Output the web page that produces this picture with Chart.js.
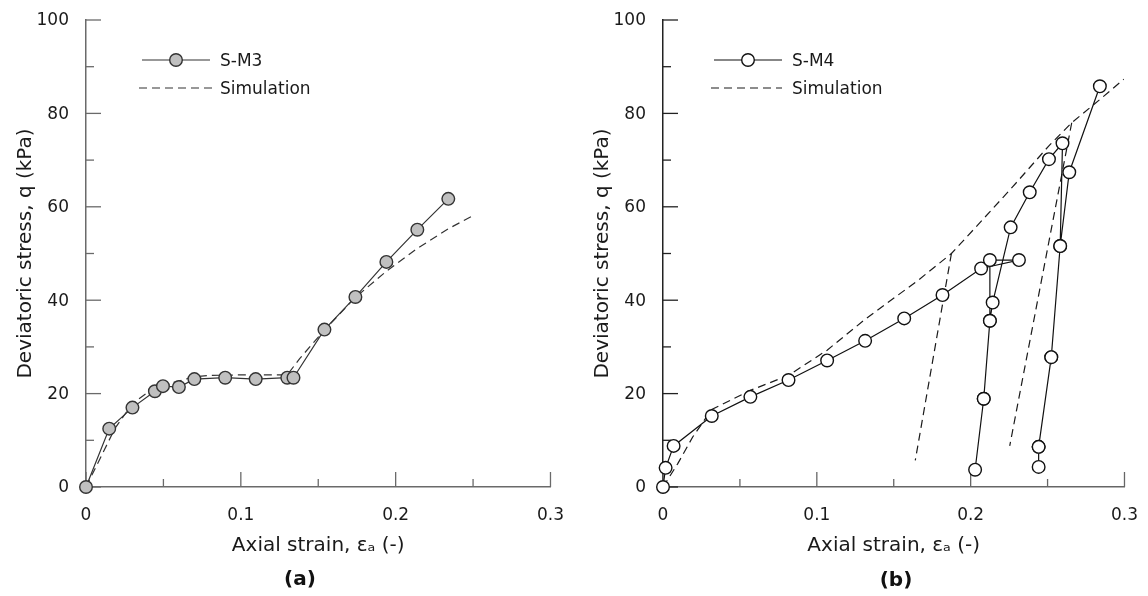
<!DOCTYPE html>
<html>
<head>
<meta charset="utf-8">
<script src="https://cdn.jsdelivr.net/npm/chart.js@4/dist/chart.umd.min.js"></script>
<style>
  body { margin: 0; background: #fff; width: 1148px; height: 596px; position: relative; overflow: hidden; }
  canvas { position: absolute; top: 0; }
  #chartA { left: 0; }
  #chartB { left: 577px; }
  .panel { position: absolute; font: bold 20px "DejaVu Sans"; color: #111; transform: translate(-50%, -50%); line-height: 1; }
</style>
</head>
<body>
<canvas id="chartA" width="574" height="596"></canvas>
<canvas id="chartB" width="571" height="596"></canvas>
<div class="panel" style="left:300px; top:578px">(a)</div>
<div class="panel" style="left:896px; top:579px">(b)</div>
<script>
// Panel (a): test S-M3 and its simulation
const strainA = [0, 0.015, 0.030, 0.0445, 0.0497, 0.060, 0.070, 0.0899, 0.1096, 0.130, 0.134, 0.154, 0.174, 0.194, 0.214, 0.234];
const stressA = [0, 12.5, 17.0, 20.5, 21.6, 21.4, 23.1, 23.4, 23.1, 23.4, 23.4, 33.7, 40.7, 48.2, 55.1, 61.7];
const simStrainA = [0, 0.01, 0.0186, 0.030, 0.045, 0.060, 0.070, 0.080, 0.100, 0.130, 0.138, 0.154, 0.174, 0.194, 0.214, 0.234, 0.250];
const simStressA = [0, 6.7, 12.5, 17.9, 21.5, 22.7, 23.6, 23.9, 24.0, 24.0, 27.5, 33.6, 40.6, 46.2, 51.1, 55.3, 58.1];

// Panel (b): test S-M4 (loading, two unload/reload loops) and its simulation
const strainB = [0, 0.0017, 0.0069, 0.0317, 0.0568, 0.0816, 0.1067, 0.1314, 0.1568, 0.1817, 0.2068, 0.2314, 0.2125,
                 0.2125, 0.2085, 0.2029, 0.2085, 0.2125, 0.2143, 0.226, 0.2384, 0.2509, 0.2597,
                 0.2582, 0.2524, 0.2442, 0.2442, 0.2442, 0.2524, 0.2582, 0.2641, 0.284];
const stressB = [0, 4.1, 8.8, 15.2, 19.3, 22.9, 27.1, 31.3, 36.1, 41.1, 46.8, 48.6, 48.6,
                 35.6, 18.9, 3.7, 18.9, 35.6, 39.5, 55.6, 63.1, 70.2, 73.6,
                 51.6, 27.8, 8.6, 4.3, 8.6, 27.8, 51.6, 67.4, 85.8];
const simStrainB = [0, 0.0096, 0.0193, 0.0317, 0.0568, 0.0816, 0.1067, 0.1314, 0.166, 0.1875, 0.2035, 0.2271, 0.2507, 0.2657, 0.2837, 0.2995];
const simStressB = [0, 5.0, 10.7, 16.6, 20.7, 23.9, 29.3, 35.9, 44.3, 50.0, 55.7, 64.2, 73.0, 78.0, 82.9, 87.3];
const simUnload1StrainB = [0.1875, 0.164];
const simUnload1StressB = [50.0, 5.7];
const simUnload2StrainB = [0.2657, 0.2254];
const simUnload2StressB = [78.0, 8.8];

const FONT = 'DejaVu Sans';
const TEXT = '#1a1a1a';

function toPoints(xs, ys) {
    return xs.map((x, i) => ({ x: x, y: ys[i] }));
}

function isMajorX(v) { return Math.round(v * 100) % 10 === 0; }
function isMajorY(v) { return Math.round(v) % 20 === 0; }

// tick marks pointing into the plot (long on labelled ticks)
const innerTicks = {
    id: 'innerTicks',
    beforeDatasetsDraw(chart, args, opts) {
        const ctx = chart.ctx;
        const xs = chart.scales.x, ys = chart.scales.y;
        const area = chart.chartArea;
        ctx.save();
        ctx.lineWidth = 1.3;
        ctx.strokeStyle = opts.xColor;
        xs.ticks.forEach(t => {
            const px = xs.getPixelForValue(t.value);
            const len = isMajorX(t.value) ? 15 : 8;
            ctx.beginPath();
            ctx.moveTo(px, area.bottom);
            ctx.lineTo(px, area.bottom - len);
            ctx.stroke();
        });
        ctx.strokeStyle = opts.yColor;
        ys.ticks.forEach(t => {
            const py = ys.getPixelForValue(t.value);
            const len = isMajorY(t.value) ? 15 : 8;
            ctx.beginPath();
            ctx.moveTo(area.left, py);
            ctx.lineTo(area.left + len, py);
            ctx.stroke();
        });
        ctx.restore();
    }
};

// legend inside the plot: line sample with the marker in its middle
const lineLegend = {
    id: 'lineLegend',
    afterDatasetsDraw(chart, args, opts) {
        if (!opts.rows) return;
        const ctx = chart.ctx;
        const area = chart.chartArea;
        ctx.save();
        opts.rows.forEach(row => {
            const ds = chart.data.datasets[row.dataset];
            const y = area.top + row.y;
            const x0 = area.left + row.x0, x1 = area.left + row.x1;
            ctx.strokeStyle = ds.borderColor;
            ctx.lineWidth = ds.borderWidth;
            ctx.setLineDash(ds.borderDash || []);
            ctx.beginPath();
            ctx.moveTo(x0, y);
            ctx.lineTo(x1, y);
            ctx.stroke();
            ctx.setLineDash([]);
            if (ds.pointRadius > 0) {
                ctx.beginPath();
                ctx.arc((x0 + x1) / 2, y, ds.pointRadius, 0, Math.PI * 2);
                ctx.fillStyle = ds.pointBackgroundColor;
                ctx.fill();
                ctx.lineWidth = ds.pointBorderWidth;
                ctx.strokeStyle = ds.pointBorderColor;
                ctx.stroke();
            }
            ctx.fillStyle = TEXT;
            ctx.font = '17px "' + FONT + '"';
            ctx.textBaseline = 'middle';
            ctx.textAlign = 'left';
            ctx.fillText(ds.label, area.left + opts.textX, y + 1.5);
        });
        ctx.restore();
    }
};

function makeChart(canvasId, cfg) {
    return new Chart(document.getElementById(canvasId), {
        type: 'scatter',
        data: { datasets: cfg.datasets },
        plugins: [innerTicks, lineLegend],
        options: {
            responsive: false,
            animation: false,
            layout: { padding: { left: 0, right: cfg.padRight, top: 20, bottom: 0 } },
            plugins: {
                legend: { display: false },
                tooltip: { enabled: false },
                innerTicks: { xColor: cfg.xColor, yColor: cfg.yColor },
                lineLegend: cfg.legend
            },
            scales: {
                x: {
                    type: 'linear',
                    min: 0,
                    max: 0.3,
                    afterFit: s => { s.height = 109; },
                    grid: { display: false },
                    border: { display: true, color: cfg.xColor, width: 1.5 },
                    ticks: {
                        stepSize: 0.05,
                        autoSkip: false,
                        maxRotation: 0,
                        padding: 10,
                        color: TEXT,
                        font: { family: FONT, size: 17 },
                        callback: v => isMajorX(v) ? (v === 0 ? '0' : Number(v).toFixed(1)) : ''
                    },
                    title: {
                        display: true,
                        text: 'Axial strain, εₐ (-)',
                        color: TEXT,
                        font: { family: FONT, size: 20 },
                        padding: { top: 0, bottom: 38 }
                    }
                },
                y: {
                    type: 'linear',
                    min: 0,
                    max: 100,
                    afterFit: s => { s.width = 86; },
                    grid: { display: false },
                    border: { display: true, color: cfg.yColor, width: 1.5 },
                    ticks: {
                        stepSize: 10,
                        autoSkip: false,
                        padding: 9,
                        labelOffset: 1,
                        color: TEXT,
                        font: { family: FONT, size: 17 },
                        callback: v => isMajorY(v) ? String(v) : ''
                    },
                    title: {
                        display: true,
                        text: 'Deviatoric stress, q (kPa)',
                        color: TEXT,
                        font: { family: FONT, size: 20 },
                        padding: { top: 14, bottom: 0 }
                    }
                }
            }
        }
    });
}

// Panel (a)
makeChart('chartA', {
    padRight: 21,
    xColor: '#6a6a6a',
    yColor: '#6a6a6a',
    legend: {
        textX: 134,
        rows: [
            { dataset: 0, x0: 56, x1: 124, y: 40 },
            { dataset: 1, x0: 53, x1: 126, y: 68 }
        ]
    },
    datasets: [
        {
            label: 'S-M3',
            data: toPoints(strainA, stressA),
            showLine: true,
            borderColor: '#333',
            borderWidth: 1.2,
            pointRadius: 6.3,
            pointBackgroundColor: '#c0c0c0',
            pointBorderColor: '#333',
            pointBorderWidth: 1.4,
            clip: false
        },
        {
            label: 'Simulation',
            data: toPoints(simStrainA, simStressA),
            showLine: true,
            borderColor: '#333',
            borderWidth: 1.2,
            borderDash: [8, 5],
            pointRadius: 0,
            clip: false
        }
    ]
});

// Panel (b)
const simStyle = {
    showLine: true,
    borderColor: '#1a1a1a',
    borderWidth: 1.2,
    borderDash: [8, 5],
    pointRadius: 0,
    clip: false
};

makeChart('chartB', {
    padRight: 18,
    xColor: '#666',
    yColor: '#222',
    legend: {
        textX: 129,
        rows: [
            { dataset: 0, x0: 51, x1: 119, y: 40 },
            { dataset: 1, x0: 48, x1: 119, y: 68 }
        ]
    },
    datasets: [
        {
            label: 'S-M4',
            data: toPoints(strainB, stressB),
            showLine: true,
            borderColor: '#111',
            borderWidth: 1.2,
            pointRadius: 6.3,
            pointBackgroundColor: '#fff',
            pointBorderColor: '#111',
            pointBorderWidth: 1.4,
            clip: false
        },
        Object.assign({ label: 'Simulation', data: toPoints(simStrainB, simStressB) }, simStyle),
        Object.assign({ label: '', data: toPoints(simUnload1StrainB, simUnload1StressB) }, simStyle),
        Object.assign({ label: '', data: toPoints(simUnload2StrainB, simUnload2StressB) }, simStyle)
    ]
});
</script>
</body>
</html>
